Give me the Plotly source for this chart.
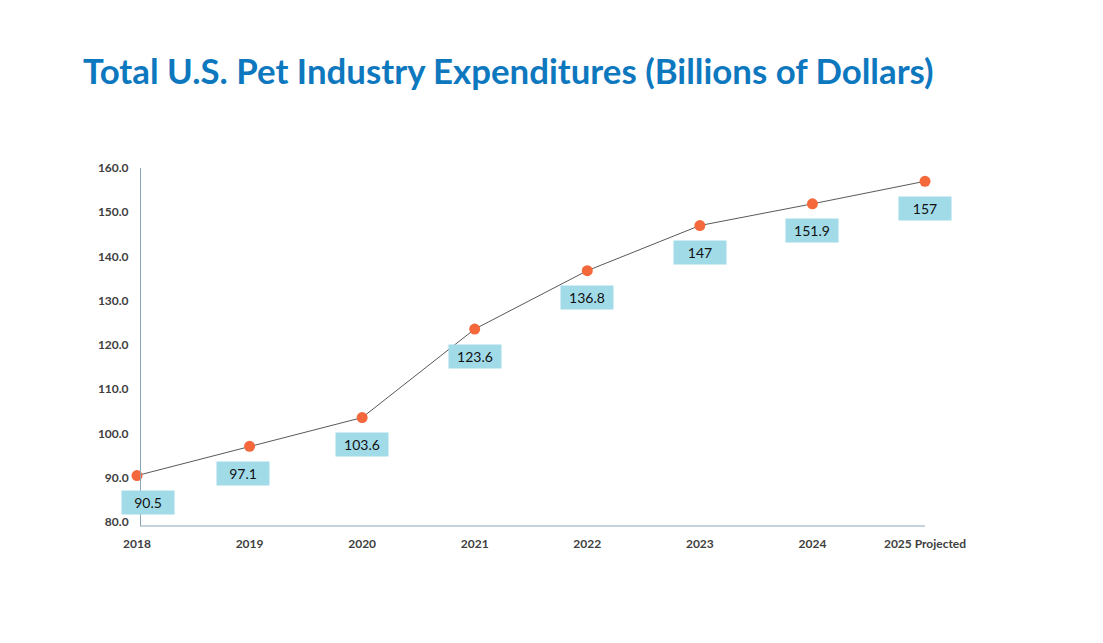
import plotly.graph_objects as go

years = ["2018", "2019", "2020", "2021", "2022", "2023", "2024", "2025 Projected"]
values = [90.5, 97.1, 103.6, 123.6, 136.8, 147, 151.9, 157]
labels = ["90.5", "97.1", "103.6", "123.6", "136.8", "147", "151.9", "157"]
label_xshift = [11, -7, 0, 0, 0, 0, 0, 0]

xs = list(range(len(years)))

fig = go.Figure()
fig.add_trace(go.Scatter(
    x=xs, y=values, mode="lines+markers",
    line=dict(color="#595959", width=1),
    marker=dict(color="#f4683c", size=11),
    cliponaxis=False, hoverinfo="skip", showlegend=False,
))

for x, v, t, dx in zip(xs, values, labels, label_xshift):
    fig.add_annotation(
        x=x, y=v, text=t, showarrow=False, xshift=dx, yshift=-27,
        bgcolor="#a2dbe8", borderpad=3,
        font=dict(family="Lato", size=14, color="#111111"),
        width=46,
    )

W, H = 1103, 643
left, right, top, bottom = 137, 925, 168, 526
axis_pos = 3 / (right - left)

fig.add_shape(type="line", xref="paper", yref="paper", x0=axis_pos, x1=1, y0=0, y1=0,
              line=dict(color="#8aa6ba", width=1), layer="below")

fig.update_layout(
    width=W, height=H,
    margin=dict(l=left, r=W - right, t=top, b=H - bottom),
    paper_bgcolor="white", plot_bgcolor="white",
    title=dict(
        text="<b>Total U.S. Pet Industry Expenditures (Billions of Dollars)</b>",
        x=83 / W, xanchor="left", y=1 - 72 / H, yanchor="middle",
        font=dict(family="Lato", size=34.8, color="#0e78bf"),
    ),
    xaxis=dict(
        range=[0, 7], tickmode="array", tickvals=xs, ticktext=years,
        showgrid=False, zeroline=False, showline=False,
        ticks="", ticklabelstandoff=9,
        tickfont=dict(family="Lato", size=12, color="#404040", weight="bold"),
    ),
    yaxis=dict(
        range=[79.1, 160], tickmode="array",
        tickvals=[80, 90, 100, 110, 120, 130, 140, 150, 160],
        tickformat=".1f", showgrid=False, zeroline=False, showline=True,
        anchor="free", position=axis_pos,
        linecolor="#8aa6ba", linewidth=1, ticks="", ticklabelstandoff=9,
        tickfont=dict(family="Lato", size=12, color="#404040", weight="bold"),
    ),
)

fig.write_html("out.html")
